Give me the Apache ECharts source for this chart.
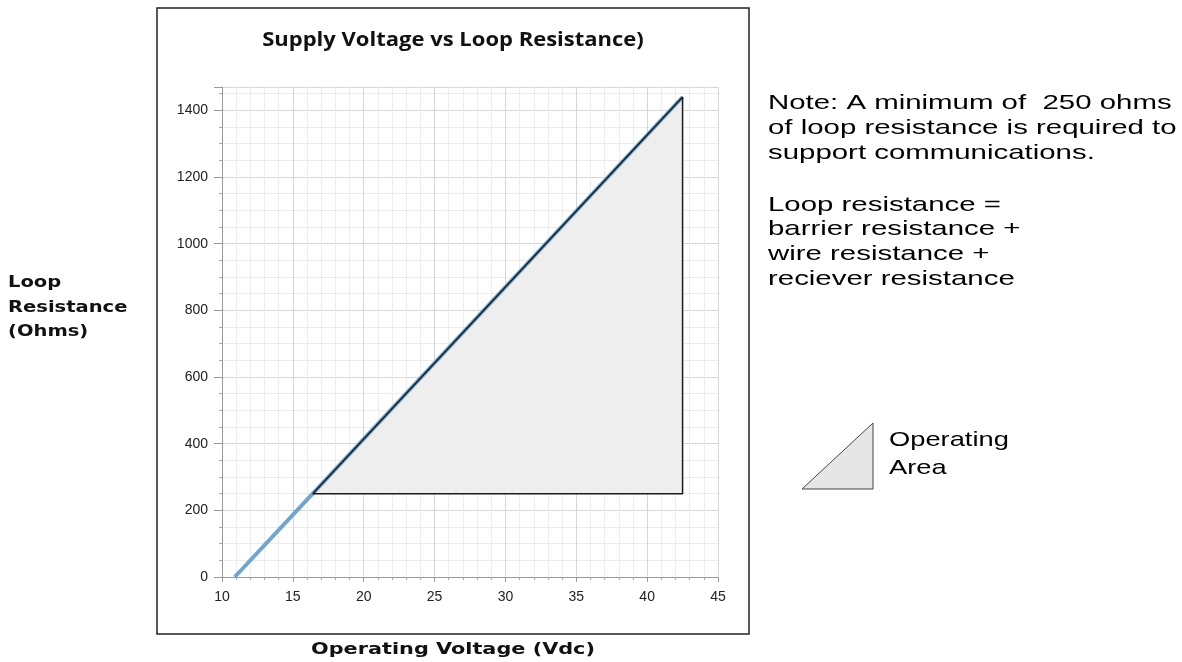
<!DOCTYPE html>
<html>
<head>
<meta charset="utf-8">
<script src="https://cdn.jsdelivr.net/npm/echarts@6/dist/echarts.min.js"></script>
<style>
    html, body {margin: 0; padding: 0; background: #fff;}
    #chart {width: 1182px; height: 662px;}
</style>
</head>
<body>
<div id="chart"></div>
<script>
// supply line: voltage (Vdc) vs loop resistance (ohms)
const lineVoltage = [10.9, 16.4, 42.5];
const lineResistance = [0, 250, 1440];

// operating area triangle
const areaVoltage = [16.4, 42.5, 42.5, 16.4];
const areaResistance = [250, 1440, 250, 250];

const xTicks = [10, 15, 20, 25, 30, 35, 40, 45];
const yTicks = [0, 200, 400, 600, 800, 1000, 1200, 1400];

const noteLines = [
    'Note: A minimum of  250 ohms',
    'of loop resistance is required to',
    'support communications.'
];
const formulaLines = [
    'Loop resistance =',
    'barrier resistance +',
    'wire resistance +',
    'reciever resistance'
];

const chartDom = document.getElementById('chart');
const myChart = echarts.init(chartDom);

const linePoints = lineVoltage.map((v, i) => [v, lineResistance[i]]);
const areaPoints = areaVoltage.map((v, i) => [v, areaResistance[i]]);

const option = {
    animation: false,
    grid: {
        left: 222,
        right: 464,
        top: 87,
        bottom: 85
    },
    xAxis: {
        type: 'value',
        min: xTicks[0],
        max: xTicks[xTicks.length - 1],
        interval: 5,
        axisLine: {lineStyle: {color: '#999'}},
        axisTick: {show: true, length: 5, lineStyle: {color: '#999'}},
        minorTick: {show: true, splitNumber: 5, length: 3, lineStyle: {color: '#aaa'}},
        axisLabel: {fontFamily: 'Liberation Sans', fontSize: 14, color: '#222', margin: 13},
        splitLine: {lineStyle: {color: '#d6d6d6'}},
        minorSplitLine: {show: true, lineStyle: {color: '#ececec'}}
    },
    yAxis: {
        type: 'value',
        min: yTicks[0],
        max: 1470,
        interval: 200,
        axisLine: {show: true, lineStyle: {color: '#999'}},
        axisTick: {show: true, length: 8, lineStyle: {color: '#999'}},
        minorTick: {show: true, splitNumber: 4, length: 3, lineStyle: {color: '#aaa'}},
        axisLabel: {
            fontFamily: 'Liberation Sans', fontSize: 14, color: '#222', margin: 14,
            showMaxLabel: false,
            formatter: v => String(v)
        },
        splitLine: {lineStyle: {color: '#d6d6d6'}},
        minorSplitLine: {show: true, lineStyle: {color: '#ececec'}}
    },
    series: [
        {
            type: 'custom',
            z: 1,
            data: [0],
            renderItem: function (params, api) {
                const pts = areaPoints.map(p => api.coord(p));
                return {
                    type: 'polygon',
                    shape: {points: pts},
                    style: {fill: '#eeeeee'}
                };
            }
        },
        {
            type: 'line',
            z: 2,
            data: linePoints,
            symbol: 'none',
            lineStyle: {color: '#6fa5cf', width: 4}
        },
        {
            type: 'line',
            z: 3,
            data: areaPoints,
            symbol: 'none',
            lineStyle: {color: '#1a1a1a', width: 1.5}
        }
    ],
    graphic: [
        {
            type: 'rect',
            shape: {x: 157, y: 8, width: 592, height: 626},
            style: {fill: 'none', stroke: '#222', lineWidth: 1.5},
            z: -1
        },
        {
            type: 'text',
            x: 453,
            y: 40,
            scaleX: 1.1,
            style: {
                text: 'Supply Voltage vs Loop Resistance)',
                font: 'bold 20px "Open Sans"',
                align: 'center',
                verticalAlign: 'middle',
                fill: '#111'
            }
        },
        {
            type: 'text',
            x: 8,
            y: 271,
            scaleX: 1.22,
            style: {
                text: 'Loop\nResistance\n(Ohms)',
                font: 'bold 16px "DejaVu Sans"',
                lineHeight: 24.5,
                verticalAlign: 'top',
                fill: '#111'
            }
        },
        {
            type: 'text',
            x: 453,
            y: 650,
            scaleX: 1.3,
            style: {
                text: 'Operating Voltage (Vdc)',
                font: 'bold 16px "DejaVu Sans"',
                align: 'center',
                verticalAlign: 'middle',
                fill: '#111'
            }
        },
        {
            type: 'text',
            x: 768,
            y: 90.5,
            scaleX: 1.4,
            style: {
                text: noteLines.join('\n'),
                font: '21px "Liberation Sans"',
                lineHeight: 25,
                verticalAlign: 'top',
                fill: '#000'
            }
        },
        {
            type: 'text',
            x: 768,
            y: 192.5,
            scaleX: 1.4,
            style: {
                text: formulaLines.join('\n'),
                font: '21px "Liberation Sans"',
                lineHeight: 24.7,
                verticalAlign: 'top',
                fill: '#000'
            }
        },
        {
            type: 'polygon',
            shape: {points: [[802, 489], [873, 489], [873, 423]]},
            style: {fill: '#e6e6e6', stroke: '#444', lineWidth: 1}
        },
        {
            type: 'text',
            x: 889,
            y: 426,
            scaleX: 1.3,
            style: {
                text: 'Operating\nArea',
                font: '21px "Liberation Sans"',
                lineHeight: 28,
                verticalAlign: 'top',
                fill: '#000'
            }
        }
    ]
};

option && myChart.setOption(option);

window.addEventListener('resize', function () {
    myChart.resize();
});
</script>
</body>
</html>
